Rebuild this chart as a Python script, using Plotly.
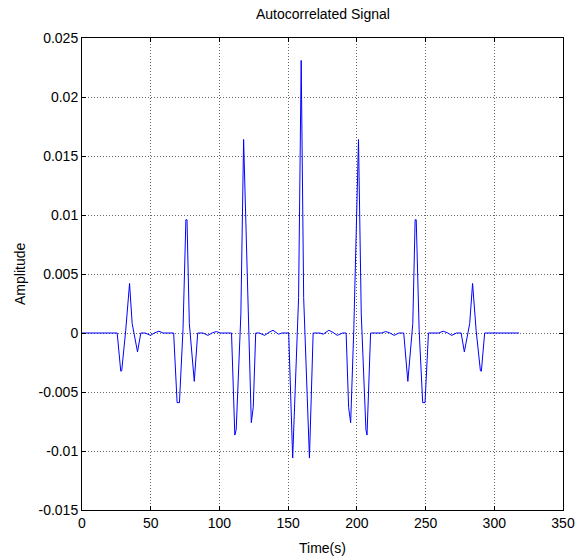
import plotly.graph_objects as go

# Vertices of the autocorrelation curve (lag, amplitude)
lag = [0, 25.6, 28.2, 28.9, 31.8, 34.6, 36.5, 40.4, 42.8,
       46.0, 49.8, 53.0, 56.0, 59.0,
       66.7, 69.2, 70.9, 73.5, 75.6, 76.4, 78.1, 81.7, 84.2,
       88.0, 91.6, 95.0, 97.8, 100.5,
       108.8, 111.2, 112.2, 115.6, 117.6, 121.0, 123.2, 124.6, 126.4,
       129.0, 132.9, 136.0, 139.0, 143.0, 145.5,
       150.4, 153.3, 157.6, 159.5, 161.3, 165.5, 168.2,
       173.0, 175.5, 179.6, 182.6, 185.8, 189.6,
       192.2, 194.0, 195.5, 197.8, 201.2, 203.2, 206.6, 207.4, 210.0,
       218.0, 220.9, 223.8, 227.1, 230.6,
       234.1, 237.1, 240.7, 242.4, 243.2, 245.3, 247.9, 249.6, 252.1,
       259.5, 262.8, 265.8, 269.0, 272.5,
       275.9, 278.2, 282.1, 284.2, 286.8, 289.9, 290.6, 293.0, 318.0]
amp = [0, 0, -0.00324, -0.0032, 0.0002, 0.0042, 0.0008, -0.0016, 0,
       0, -0.0002, 0.00002, 0.00015, 0,
       0, -0.0059, -0.0059, 0.0003, 0.0096, 0.0096, 0.0008, -0.0041, 0,
       0, -0.0002, 0.00002, 0.00012, 0,
       0, -0.00865, -0.0082, 0.0016, 0.0164, 0.0004, -0.0076, -0.0063, 0,
       0, -0.0002, 0.00005, 0.00023, -0.0001, 0,
       0, -0.0106, 0.003, 0.0231, 0.003, -0.0106, 0,
       0, -0.0001, 0.00023, 0.00005, -0.0002, 0,
       0, -0.0063, -0.0076, 0.0004, 0.0164, 0.0016, -0.0082, -0.00865, 0,
       0, 0.00012, 0.00002, -0.0002, 0,
       0, -0.0041, 0.0008, 0.0096, 0.0096, 0.0003, -0.0059, -0.0059, 0,
       0, 0.00015, 0.00002, -0.0002, 0,
       0, -0.0016, 0.0008, 0.0042, 0.0002, -0.0032, -0.00324, 0, 0]

x_ticks = [0, 50, 100, 150, 200, 250, 300, 350]
y_ticks = [-0.015, -0.01, -0.005, 0, 0.005, 0.01, 0.015, 0.02, 0.025]
y_labels = ["-0.015", "-0.01", "-0.005", "0", "0.005", "0.01", "0.015", "0.02", "0.025"]

FONT = "Liberation Sans, Arial, sans-serif"
FS = 14

fig = go.Figure()
fig.add_trace(go.Scatter(x=lag, y=amp, mode="lines",
                         line=dict(color="#0000ff", width=1), showlegend=False))

axis_common = dict(showline=True, linecolor="black", linewidth=1, mirror="ticks",
                   ticks="inside", ticklen=4, tickcolor="black", tickwidth=1,
                   showgrid=True, gridcolor="rgba(0,0,0,0.6)", griddash="1px,2px",
                   gridwidth=1, zeroline=False, automargin=False,
                   tickfont=dict(family=FONT, size=FS, color="black"))

fig.update_layout(
    width=585, height=560,
    paper_bgcolor="white", plot_bgcolor="white",
    margin=dict(l=82, r=22, t=38, b=50, autoexpand=False),
    font=dict(family=FONT, size=FS, color="black"),
    xaxis=dict(range=[0, 350], tickvals=x_ticks, **axis_common),
    yaxis=dict(range=[-0.015, 0.025], tickvals=y_ticks, ticktext=y_labels, **axis_common),
    annotations=[
        dict(text="Autocorrelated Signal", xref="paper", yref="paper",
             x=0.5, y=1 + 24 / 472, xanchor="center", yanchor="middle",
             showarrow=False, font=dict(family=FONT, size=FS, color="black")),
        dict(text="Time(s)", xref="paper", yref="paper",
             x=0.5, y=-38 / 472, xanchor="center", yanchor="middle",
             showarrow=False, font=dict(family=FONT, size=FS, color="black")),
        dict(text="Amplitude", xref="paper", yref="paper",
             x=(20 - 82) / 481, y=0.5, xanchor="center", yanchor="middle",
             textangle=-90, showarrow=False,
             font=dict(family=FONT, size=FS, color="black")),
    ],
)

fig.write_html("out.html", config={"displayModeBar": False},
               post_script="document.body.style.margin='0';document.body.style.padding='0';")
